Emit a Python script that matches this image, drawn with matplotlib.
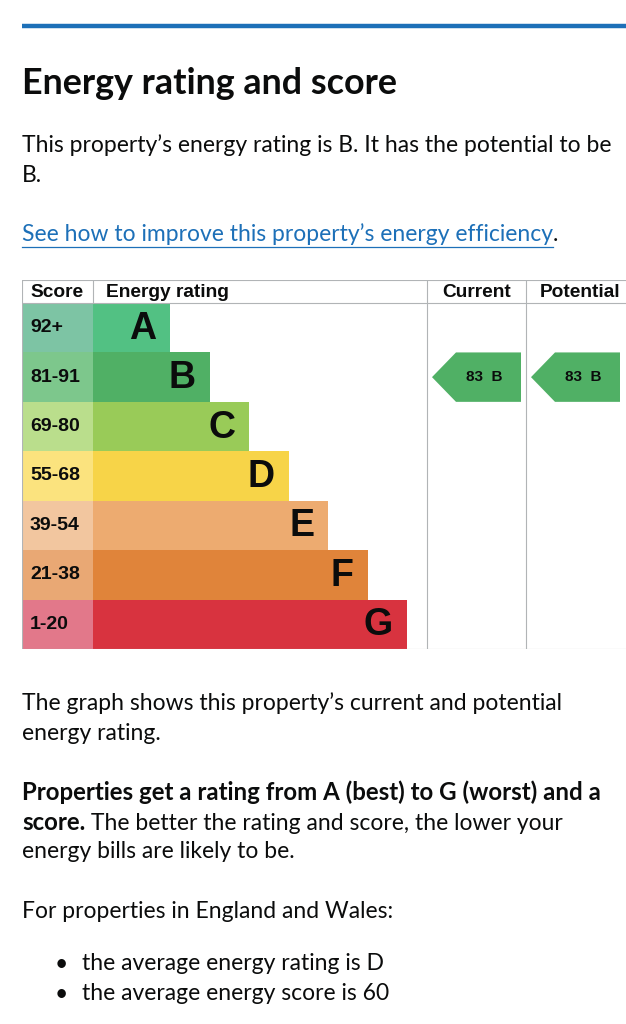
import numpy as np
import matplotlib
matplotlib.use('Agg')
from matplotlib import pyplot as plt
from matplotlib.patches import Polygon

# EPC bands
bands = ['A', 'B', 'C', 'D', 'E', 'F', 'G']
score_ranges = ['92+', '81-91', '69-80', '55-68', '39-54', '21-38', '1-20']
band_min = [92, 81, 69, 55, 39, 21, 1]
bar_colors = ['#52c183', '#50b065', '#99cb58', '#f7d448', '#edab70', '#e0843a', '#d8333f']
score_colors = ['#7dc4a4', '#7dc78c', '#bade8c', '#fbe37e', '#f2c69f', '#e9a874', '#e2788a']
current_score = 83
potential_score = 83
avg_rating = 'D'
avg_score = 60

blue = '#1d70b8'
grey = '#b1b4b6'
ink = '#0b0c0c'
body_font = 'Lato'
table_font = 'Liberation Sans'


def band_of(score):
    for i, m in enumerate(band_min):
        if score >= m:
            return i
    return len(bands) - 1


W, H = 626, 1024
fig = plt.figure(figsize=(W / 100, H / 100), dpi=100)
fig.patch.set_facecolor('white')

# page axes in pixel units, used for the text around the chart
pg = fig.add_axes([0, 0, 1, 1])
pg.set_xlim(0, W)
pg.set_ylim(H, 0)
pg.axis('off')

pg.plot([22, W], [26, 26], color=blue, lw=3.2, solid_capstyle='butt')
pg.text(22, 83, 'Energy rating and score', fontsize=25.8, fontweight='bold',
        family=body_font, va='center', color=ink)

fs = 16.5
fsb = 17.3
pg.text(22, 145, 'This property\u2019s energy rating is B. It has the potential to be',
        fontsize=fs, family=body_font, va='center', color=ink)
pg.text(22, 176, 'B.', fontsize=fs, family=body_font, va='center', color=ink)
link = pg.text(22, 234, 'See how to improve this property\u2019s energy efficiency',
               fontsize=fs, family=body_font, va='center', color=blue)
pg.annotate('.', xy=(1, 0), xycoords=link, va='bottom', fontsize=fs,
            family=body_font, color=ink)

pg.text(22, 703, 'The graph shows this property\u2019s current and potential',
        fontsize=fs, family=body_font, va='center', color=ink)
pg.text(22, 733, 'energy rating.', fontsize=fs, family=body_font, va='center', color=ink)
pg.text(22, 792, 'Properties get a rating from A (best) to G (worst) and a',
        fontsize=fsb, family=body_font, fontweight='bold', va='center', color=ink)
sc = pg.text(22, 822, 'score.', fontsize=fsb, family=body_font, fontweight='bold',
             va='center', color=ink)
pg.annotate(' The better the rating and score, the lower your', xy=(1, 0), xycoords=sc,
            va='bottom', fontsize=fs, family=body_font, color=ink)
pg.text(22, 852, 'energy bills are likely to be.', fontsize=fs, family=body_font,
        va='center', color=ink)
pg.text(22, 911, 'For properties in England and Wales:', fontsize=fs, family=body_font,
        va='center', color=ink)
for yy, line in [(964, 'the average energy rating is %s' % avg_rating),
                 (994, 'the average energy score is %d' % avg_score)]:
    pg.text(55, yy, '\u2022', fontsize=fs, family=body_font, va='center', color=ink)
    pg.text(82, yy, line, fontsize=fs, family=body_font, va='center', color=ink)

# underline for the link
fig.canvas.draw()
bb = link.get_window_extent()
inv = pg.transData.inverted()
x0, _ = inv.transform((bb.x0, bb.y0))
x1, _ = inv.transform((bb.x1, bb.y0))
pg.plot([x0, x1], [247, 247], color=blue, lw=0.9)

# chart axes: x in pixels from the table's left edge, y in rows
tab_top, tab_bot = 280, 649
ax = fig.add_axes([22 / W, (H - tab_bot) / H, (W - 22) / W, (tab_bot - tab_top) / H])
hdr = 23 / ((tab_bot - tab_top - 23) / 7)
ax.set_xlim(0, W - 22)
ax.set_ylim(7, -hdr)
ax.axis('off')

score_w = 71
bar_base, bar_step = 77, 39.5
cur_left, pot_left = 405, 504
rows = np.arange(len(bands))
widths = bar_base + bar_step * rows

ax.barh(rows + 0.5, score_w, left=0, height=1, color=score_colors, edgecolor='none')
ax.barh(rows + 0.5, widths, left=score_w, height=1, color=bar_colors, edgecolor='none')

for i in rows:
    ax.text(8, i + 0.5, score_ranges[i], fontsize=14, fontweight='bold',
            family=table_font, va='center', ha='left', color=ink)
    ax.text(score_w + widths[i] - 14, i + 0.52, bands[i], fontsize=27, fontweight='bold',
            family=table_font, va='center', ha='right', color=ink)

# header
hy = -hdr / 2 + 0.03
hfs = 13.8
ax.text(8, hy, 'Score', fontsize=hfs, fontweight='bold', family=table_font,
        va='center', ha='left', color=ink)
ax.text(84, hy, 'Energy rating', fontsize=hfs, fontweight='bold', family=table_font,
        va='center', ha='left', color=ink)
ax.text((cur_left + pot_left) / 2, hy, 'Current', fontsize=hfs, fontweight='bold',
        family=table_font, va='center', ha='center', color=ink)
ax.text(558, hy, 'Potential', fontsize=hfs, fontweight='bold', family=table_font,
        va='center', ha='center', color=ink)

# grid lines
lw = 0.8
for yy in [-hdr, 0, 7]:
    ax.plot([0, W], [yy, yy], color=grey, lw=lw, solid_capstyle='butt')
ax.plot([0, 0], [-hdr, 7], color=grey, lw=lw)
ax.plot([score_w, score_w], [-hdr, 0], color=grey, lw=lw)
for xx in [cur_left, pot_left]:
    ax.plot([xx, xx], [-hdr, 7], color=grey, lw=lw)


def arrow(col_left, score):
    r = band_of(score)
    tip = col_left + 5
    right = col_left + 94
    pts = [(tip, r + 0.5), (tip + 24, r), (right, r), (right, r + 1), (tip + 24, r + 1)]
    ax.add_patch(Polygon(pts, closed=True, facecolor=bar_colors[r], edgecolor='none'))
    ax.text((tip + 24 + right) / 2 - 4, r + 0.5, '%d  %s' % (score, bands[r]),
            fontsize=11, fontweight='bold', family=table_font, va='center', ha='center',
            color=ink)


arrow(cur_left, current_score)
arrow(pot_left, potential_score)

fig.savefig('out.png', dpi=100, facecolor='white')
